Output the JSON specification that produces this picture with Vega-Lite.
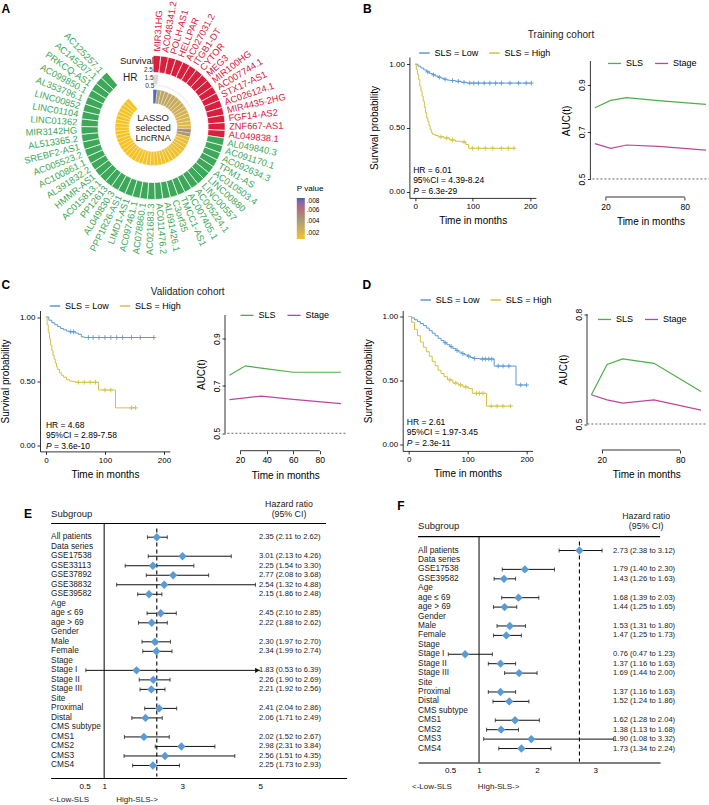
{
"padding":0,
"config":{"view":{"stroke":null},"font":"Liberation Sans",
 "axis":{"domainColor":"#000","tickColor":"#000","labelColor":"#000","titleColor":"#000","grid":false,"titleFontWeight":"normal","domainWidth":0.8,"tickWidth":0.8,"labelFontSize":8,"titleFontSize":10,"labelOverlap":false}},
"datasets":{
"lnc":[
{"idx":0,"gene":"MIR31HG","dir":"risk","p":0.0078,"hr":1.75},
{"idx":1,"gene":"AC048341.2","dir":"risk","p":0.0036,"hr":1.72},
{"idx":2,"gene":"POLH-AS1","dir":"risk","p":0.0034,"hr":1.70},
{"idx":3,"gene":"HELLPAR","dir":"risk","p":0.0033,"hr":1.68},
{"idx":4,"gene":"AC027031.2","dir":"risk","p":0.0032,"hr":1.66},
{"idx":5,"gene":"ITGB1-DT","dir":"risk","p":0.0031,"hr":1.64},
{"idx":6,"gene":"CYTOR","dir":"risk","p":0.0029,"hr":1.62},
{"idx":7,"gene":"MEG3","dir":"risk","p":0.0028,"hr":1.60},
{"idx":8,"gene":"MIR100HG","dir":"risk","p":0.0027,"hr":1.58},
{"idx":9,"gene":"AC007744.1","dir":"risk","p":0.0026,"hr":1.56},
{"idx":10,"gene":"STX17-AS1","dir":"risk","p":0.0024,"hr":1.54},
{"idx":11,"gene":"AC026124.1","dir":"risk","p":0.0022,"hr":1.52},
{"idx":12,"gene":"MIR4435-2HG","dir":"risk","p":0.0021,"hr":1.50},
{"idx":13,"gene":"FGF14-AS2","dir":"risk","p":0.0020,"hr":1.48},
{"idx":14,"gene":"ZNF667-AS1","dir":"risk","p":0.0019,"hr":1.46},
{"idx":15,"gene":"AL049838.1","dir":"risk","p":0.0050,"hr":1.90},
{"idx":16,"gene":"AL049840.3","dir":"protective","p":0.0044,"hr":0.62},
{"idx":17,"gene":"AC091170.1","dir":"protective","p":0.0016,"hr":0.60},
{"idx":18,"gene":"AC092634.3","dir":"protective","p":0.0015,"hr":0.62},
{"idx":19,"gene":"TPM1-AS","dir":"protective","p":0.0014,"hr":0.61},
{"idx":20,"gene":"AC010503.4","dir":"protective","p":0.0014,"hr":0.63},
{"idx":21,"gene":"LINC00880","dir":"protective","p":0.0013,"hr":0.60},
{"idx":22,"gene":"LINC00557","dir":"protective","p":0.0013,"hr":0.62},
{"idx":23,"gene":"AC005224.1","dir":"protective","p":0.0012,"hr":0.61},
{"idx":24,"gene":"AC007405.1","dir":"protective","p":0.0012,"hr":0.63},
{"idx":25,"gene":"TMCC1-AS1","dir":"protective","p":0.0012,"hr":0.60},
{"idx":26,"gene":"C3orf35","dir":"protective","p":0.0011,"hr":0.62},
{"idx":27,"gene":"AL691426.1","dir":"protective","p":0.0011,"hr":0.61},
{"idx":28,"gene":"AC011476.2","dir":"protective","p":0.0011,"hr":0.60},
{"idx":29,"gene":"AC021683.3","dir":"protective","p":0.0011,"hr":0.62},
{"idx":30,"gene":"AC078860.1","dir":"protective","p":0.0011,"hr":0.61},
{"idx":31,"gene":"AC097461.1","dir":"protective","p":0.0010,"hr":0.63},
{"idx":32,"gene":"LIMD1-AS1","dir":"protective","p":0.0010,"hr":0.60},
{"idx":33,"gene":"PPP1R26-AS1","dir":"protective","p":0.0010,"hr":0.62},
{"idx":34,"gene":"AL049830.3","dir":"protective","p":0.0010,"hr":0.61},
{"idx":35,"gene":"PP12613","dir":"protective","p":0.0010,"hr":0.60},
{"idx":36,"gene":"AC015813.1","dir":"protective","p":0.0010,"hr":0.62},
{"idx":37,"gene":"HMMR-AS1","dir":"protective","p":0.0010,"hr":0.61},
{"idx":38,"gene":"AL391832.2","dir":"protective","p":0.0010,"hr":0.63},
{"idx":39,"gene":"AC100861.1","dir":"protective","p":0.0010,"hr":0.60},
{"idx":40,"gene":"AC005523.2","dir":"protective","p":0.0010,"hr":0.62},
{"idx":41,"gene":"SREBF2-AS1","dir":"protective","p":0.0010,"hr":0.61},
{"idx":42,"gene":"AL513365.2","dir":"protective","p":0.0010,"hr":0.60},
{"idx":43,"gene":"MIR3142HG","dir":"protective","p":0.0010,"hr":0.62},
{"idx":44,"gene":"LINC01362","dir":"protective","p":0.0010,"hr":0.61},
{"idx":45,"gene":"LINC01104","dir":"protective","p":0.0010,"hr":0.63},
{"idx":46,"gene":"LINC00852","dir":"protective","p":0.0010,"hr":0.60},
{"idx":47,"gene":"AL353796.1","dir":"protective","p":0.0010,"hr":0.62},
{"idx":48,"gene":"AC099850.1","dir":"protective","p":0.0010,"hr":0.61},
{"idx":49,"gene":"PRKCQ-AS1","dir":"protective","p":0.0010,"hr":0.60},
{"idx":50,"gene":"AC145207.1","dir":"protective","p":0.0010,"hr":0.62},
{"idx":51,"gene":"AC125257.1","dir":"protective","p":0.0010,"hr":0.61}
],
"forestE":[
{"i":0,"label":"All patients","hr":2.35,"lo":2.11,"hi":2.62,"ci":"2.35 (2.11 to 2.62)"},
{"i":1,"label":"Data series"},
{"i":2,"label":"GSE17538","hr":3.01,"lo":2.13,"hi":4.26,"ci":"3.01 (2.13 to 4.26)"},
{"i":3,"label":"GSE33113","hr":2.25,"lo":1.54,"hi":3.30,"ci":"2.25 (1.54 to 3.30)"},
{"i":4,"label":"GSE37892","hr":2.77,"lo":2.08,"hi":3.68,"ci":"2.77 (2.08 to 3.68)"},
{"i":5,"label":"GSE38832","hr":2.54,"lo":1.32,"hi":4.88,"ci":"2.54 (1.32 to 4.88)"},
{"i":6,"label":"GSE39582","hr":2.15,"lo":1.86,"hi":2.48,"ci":"2.15 (1.86 to 2.48)"},
{"i":7,"label":"Age"},
{"i":8,"label":"age ≤ 69","hr":2.45,"lo":2.10,"hi":2.85,"ci":"2.45 (2.10 to 2.85)"},
{"i":9,"label":"age > 69","hr":2.22,"lo":1.88,"hi":2.62,"ci":"2.22 (1.88 to 2.62)"},
{"i":10,"label":"Gender"},
{"i":11,"label":"Male","hr":2.30,"lo":1.97,"hi":2.70,"ci":"2.30 (1.97 to 2.70)"},
{"i":12,"label":"Female","hr":2.34,"lo":1.99,"hi":2.74,"ci":"2.34 (1.99 to 2.74)"},
{"i":13,"label":"Stage"},
{"i":14,"label":"Stage I","hr":1.83,"lo":0.53,"hi":6.39,"ci":"1.83 (0.53 to 6.39)"},
{"i":15,"label":"Stage II","hr":2.26,"lo":1.90,"hi":2.69,"ci":"2.26 (1.90 to 2.69)"},
{"i":16,"label":"Stage III","hr":2.21,"lo":1.92,"hi":2.56,"ci":"2.21 (1.92 to 2.56)"},
{"i":17,"label":"Site"},
{"i":18,"label":"Proximal","hr":2.41,"lo":2.04,"hi":2.86,"ci":"2.41 (2.04 to 2.86)"},
{"i":19,"label":"Distal","hr":2.06,"lo":1.71,"hi":2.49,"ci":"2.06 (1.71 to 2.49)"},
{"i":20,"label":"CMS subtype"},
{"i":21,"label":"CMS1","hr":2.02,"lo":1.52,"hi":2.67,"ci":"2.02 (1.52 to 2.67)"},
{"i":22,"label":"CMS2","hr":2.98,"lo":2.31,"hi":3.84,"ci":"2.98 (2.31 to 3.84)"},
{"i":23,"label":"CMS3","hr":2.56,"lo":1.51,"hi":4.35,"ci":"2.56 (1.51 to 4.35)"},
{"i":24,"label":"CMS4","hr":2.25,"lo":1.73,"hi":2.93,"ci":"2.25 (1.73 to 2.93)"}
],
"forestF":[
{"i":0,"label":"All patients","hr":2.73,"lo":2.38,"hi":3.12,"ci":"2.73 (2.38 to 3.12)"},
{"i":1,"label":"Data series"},
{"i":2,"label":"GSE17538","hr":1.79,"lo":1.40,"hi":2.30,"ci":"1.79 (1.40 to 2.30)"},
{"i":3,"label":"GSE39582","hr":1.43,"lo":1.26,"hi":1.63,"ci":"1.43 (1.26 to 1.63)"},
{"i":4,"label":"Age"},
{"i":5,"label":"age ≤ 69","hr":1.68,"lo":1.39,"hi":2.03,"ci":"1.68 (1.39 to 2.03)"},
{"i":6,"label":"age > 69","hr":1.44,"lo":1.25,"hi":1.65,"ci":"1.44 (1.25 to 1.65)"},
{"i":7,"label":"Gender"},
{"i":8,"label":"Male","hr":1.53,"lo":1.31,"hi":1.80,"ci":"1.53 (1.31 to 1.80)"},
{"i":9,"label":"Female","hr":1.47,"lo":1.25,"hi":1.73,"ci":"1.47 (1.25 to 1.73)"},
{"i":10,"label":"Stage"},
{"i":11,"label":"Stage I","hr":0.76,"lo":0.47,"hi":1.23,"ci":"0.76 (0.47 to 1.23)"},
{"i":12,"label":"Stage II","hr":1.37,"lo":1.16,"hi":1.63,"ci":"1.37 (1.16 to 1.63)"},
{"i":13,"label":"Stage III","hr":1.69,"lo":1.44,"hi":2.00,"ci":"1.69 (1.44 to 2.00)"},
{"i":14,"label":"Site"},
{"i":15,"label":"Proximal","hr":1.37,"lo":1.16,"hi":1.63,"ci":"1.37 (1.16 to 1.63)"},
{"i":16,"label":"Distal","hr":1.52,"lo":1.24,"hi":1.86,"ci":"1.52 (1.24 to 1.86)"},
{"i":17,"label":"CMS subtype"},
{"i":18,"label":"CMS1","hr":1.62,"lo":1.28,"hi":2.04,"ci":"1.62 (1.28 to 2.04)"},
{"i":19,"label":"CMS2","hr":1.38,"lo":1.13,"hi":1.68,"ci":"1.38 (1.13 to 1.68)"},
{"i":20,"label":"CMS3","hr":1.90,"lo":1.08,"hi":3.32,"ci":"1.90 (1.08 to 3.32)"},
{"i":21,"label":"CMS4","hr":1.73,"lo":1.34,"hi":2.24,"ci":"1.73 (1.34 to 2.24)"}
]
},
"spacing":22.5,
"resolve":{"scale":{"color":"independent"},"legend":{"color":"independent"}},
"vconcat":[
{"spacing":38.4,"resolve":{"scale":{"color":"independent"},"legend":{"color":"independent"}},"hconcat":[
{"width":226.2,"height":141,"data":{"name":"lnc"},
 "resolve":{"scale":{"color":"independent","angle":"independent"}},
 "layer":[
  {"mark":{"type":"arc","radius":72,"radius2":55,"stroke":"white","strokeWidth":0.7},
   "encoding":{"theta":{"aggregate":"count","type":"quantitative","stack":true,"scale":{"domain":[0,52],"range":[0,5.585]}},
    "order":{"field":"idx","type":"quantitative"},"detail":{"field":"gene","type":"nominal"},
    "color":{"field":"dir","type":"nominal","scale":{"domain":["risk","protective"],"range":["#D6203E","#3DA75A"]},"legend":null}}},
  {"mark":{"type":"arc","radius2":42,"stroke":"white","strokeWidth":0.6,"fill":"#D9D9D9"},
   "encoding":{"theta":{"aggregate":"count","type":"quantitative","stack":true,"scale":{"domain":[0,52],"range":[0,5.585]}},
    "order":{"field":"idx","type":"quantitative"},"detail":{"field":"gene","type":"nominal"},
    "radius":{"field":"hr","type":"quantitative","scale":{"type":"linear","zero":false,"domain":[0.5,2.5],"range":[42,58]}}}},
  {"mark":{"type":"arc","radius":38,"radius2":24,"stroke":"white","strokeWidth":0.3},
   "encoding":{"theta":{"aggregate":"count","type":"quantitative","stack":true,"scale":{"domain":[0,52],"range":[0,5.585]}},
    "order":{"field":"idx","type":"quantitative"},"detail":{"field":"gene","type":"nominal"},
    "color":{"field":"p","type":"quantitative","scale":{"domain":[0.001,0.0045,0.008],"range":["#F5C324","#A3977A","#2E6DB4"]},
     "legend":{"orient":"none","legendX":256.8,"legendY":128,"title":"P value","titleFontSize":8,"titleFontWeight":"normal","labelFontSize":6.5,"gradientLength":41,"gradientThickness":8,"values":[0.002,0.004,0.006,0.008],"labelExpr":"replace(format(datum.value,'.3f'),'0.','.')","direction":"vertical"}}}},
  {"transform":[{"filter":"datum.idx <= 28"}],
   "mark":{"type":"text","radius":76,"thetaOffset":0.0537,"align":"left","baseline":"middle","fontSize":9.3},
   "encoding":{"theta":{"field":"idx","type":"quantitative","stack":false,"scale":{"domain":[0,52],"range":[0,5.585]}},
    "angle":{"field":"idx","type":"quantitative","scale":{"domain":[0,52],"range":[-86.92,233.08]}},
    "text":{"field":"gene"},
    "color":{"field":"dir","type":"nominal","scale":{"domain":["risk","protective"],"range":["#D6203E","#3DA75A"]},"legend":null}}},
  {"transform":[{"filter":"datum.idx >= 29"}],
   "mark":{"type":"text","radius":76,"thetaOffset":0.0537,"align":"right","baseline":"middle","fontSize":9.3},
   "encoding":{"theta":{"field":"idx","type":"quantitative","stack":false,"scale":{"domain":[0,52],"range":[0,5.585]}},
    "angle":{"field":"idx","type":"quantitative","scale":{"domain":[0,52],"range":[-266.92,53.08]}},
    "text":{"field":"gene"},
    "color":{"field":"dir","type":"nominal","scale":{"domain":["risk","protective"],"range":["#D6203E","#3DA75A"]},"legend":null}}},
  {"data":{"values":[{"hr":0.5},{"hr":1.5},{"hr":2.5}]},
   "mark":{"type":"text","fontSize":6.5,"align":"center","baseline":"middle","color":"#333"},
   "encoding":{"theta":{"datum":-0.75,"type":"quantitative"},"radius":{"field":"hr","type":"quantitative"},"text":{"field":"hr","type":"quantitative","format":".1f"}}},
  {"data":{"values":[{"t":"Survival"}]},
   "mark":{"type":"text","radius":66.5,"align":"right","baseline":"middle","fontSize":9.5,"color":"#222"},
   "encoding":{"theta":{"datum":0.1,"type":"quantitative"},"text":{"field":"t"}}},
  {"data":{"values":[{"t":"HR"}]},
   "mark":{"type":"text","radius":52.2,"align":"right","baseline":"middle","fontSize":10,"color":"#222"},
   "encoding":{"theta":{"datum":-2.84,"type":"quantitative"},"text":{"field":"t"}}},
  {"data":{"values":[{"t":"LASSO|selected|LncRNA"}]},
   "mark":{"type":"text","lineBreak":"|","lineHeight":10,"fontSize":9.5,"align":"center","baseline":"middle","dy":-10,"color":"#222"},
   "encoding":{"text":{"field":"t"}}},
  {"data":{"values":[{"t":"A"}]},
   "mark":{"type":"text","radius":188.9,"fontSize":12,"fontWeight":"bold","align":"center","baseline":"middle"},
   "encoding":{"theta":{"datum":-8.33,"type":"quantitative"},"text":{"field":"t"}}}
 ]},
{"spacing":-23,"resolve":{"scale":{"color":"independent"},"legend":{"color":"independent"}},"hconcat":[
{"width":126.5,"height":140.9,
 "data":{"values":[
{"g":"Low","t":0,"s":1},{"g":"Low","t":5,"s":0.985},{"g":"Low","t":10,"s":0.97},{"g":"Low","t":15,"s":0.955},{"g":"Low","t":20,"s":0.94},{"g":"Low","t":22,"s":0.94,"c":1},{"g":"Low","t":25,"s":0.928},{"g":"Low","t":30,"s":0.917},{"g":"Low","t":32,"s":0.917,"c":1},{"g":"Low","t":35,"s":0.907},{"g":"Low","t":40,"s":0.898},{"g":"Low","t":42,"s":0.898,"c":1},{"g":"Low","t":45,"s":0.89},{"g":"Low","t":50,"s":0.882},{"g":"Low","t":52,"s":0.882,"c":1},{"g":"Low","t":55,"s":0.876},{"g":"Low","t":60,"s":0.872},{"g":"Low","t":65,"s":0.872,"c":1},{"g":"Low","t":70,"s":0.866},{"g":"Low","t":75,"s":0.866,"c":1},{"g":"Low","t":80,"s":0.858},{"g":"Low","t":85,"s":0.858,"c":1},{"g":"Low","t":90,"s":0.852},{"g":"Low","t":95,"s":0.852,"c":1},{"g":"Low","t":102,"s":0.852,"c":1},{"g":"Low","t":110,"s":0.852,"c":1},{"g":"Low","t":120,"s":0.852,"c":1},{"g":"Low","t":130,"s":0.852,"c":1},{"g":"Low","t":140,"s":0.852,"c":1},{"g":"Low","t":150,"s":0.852,"c":1},{"g":"Low","t":165,"s":0.852,"c":1},{"g":"Low","t":180,"s":0.852,"c":1},{"g":"Low","t":193,"s":0.852,"c":1},{"g":"Low","t":202,"s":0.852,"c":1},
{"g":"High","t":0,"s":1},{"g":"High","t":2,"s":0.96},{"g":"High","t":4,"s":0.92},{"g":"High","t":6,"s":0.88},{"g":"High","t":8,"s":0.83},{"g":"High","t":10,"s":0.79},{"g":"High","t":12,"s":0.75},{"g":"High","t":14,"s":0.71},{"g":"High","t":16,"s":0.66},{"g":"High","t":18,"s":0.62},{"g":"High","t":20,"s":0.58},{"g":"High","t":22,"s":0.55},{"g":"High","t":24,"s":0.52},{"g":"High","t":26,"s":0.49},{"g":"High","t":28,"s":0.465},{"g":"High","t":30,"s":0.45},{"g":"High","t":35,"s":0.44},{"g":"High","t":40,"s":0.43},{"g":"High","t":45,"s":0.43,"c":1},{"g":"High","t":50,"s":0.42},{"g":"High","t":55,"s":0.42,"c":1},{"g":"High","t":60,"s":0.405},{"g":"High","t":65,"s":0.405,"c":1},{"g":"High","t":70,"s":0.395},{"g":"High","t":80,"s":0.39},{"g":"High","t":85,"s":0.39,"c":1},{"g":"High","t":88,"s":0.37},{"g":"High","t":93,"s":0.34},{"g":"High","t":100,"s":0.34,"c":1},{"g":"High","t":110,"s":0.34,"c":1},{"g":"High","t":122,"s":0.34,"c":1},{"g":"High","t":135,"s":0.34,"c":1},{"g":"High","t":150,"s":0.34,"c":1},{"g":"High","t":162,"s":0.34,"c":1},{"g":"High","t":172,"s":0.34,"c":1}
 ]},
 "layer":[
  {"mark":{"type":"line","interpolate":"step-after","strokeWidth":1},
   "encoding":{"x":{"field":"t","type":"quantitative","scale":{"domain":[-10,210],"nice":false,"zero":false},"axis":{"values":[0,50,100,150,200],"title":"Time in months","tickSize":3,"labelPadding":2,"titlePadding":5}},
    "y":{"field":"s","type":"quantitative","scale":{"domain":[-0.05,1.057],"nice":false,"zero":false},"axis":{"values":[0,0.25,0.5,0.75,1],"format":".2f","title":"Survival probability","tickSize":3,"labelPadding":2,"titlePadding":9}},
    "color":{"field":"g","type":"nominal","scale":{"domain":["Low","High"],"range":["#5B9AD6","#D4C242"]},"legend":{"orient":"none","legendX":9,"legendY":-10,"direction":"horizontal","title":null,"symbolType":"stroke","symbolSize":110,"symbolStrokeWidth":1.5,"labelFontSize":9,"labelExpr":"'SLS = ' + datum.label","columnPadding":7}}}},
  {"transform":[{"filter":"datum.c == 1"}],"mark":{"type":"point","shape":"M-1,0L1,0M0,-1L0,1","filled":false,"size":22,"strokeWidth":0.9,"opacity":1},
   "encoding":{"x":{"field":"t","type":"quantitative"},"y":{"field":"s","type":"quantitative"},"color":{"field":"g","type":"nominal"}}},
  {"data":{"values":[{"t":"HR = 6.01|95%CI = 4.39-8.24"}]},"mark":{"type":"text","lineBreak":"|","lineHeight":10.5,"align":"left","baseline":"middle","fontSize":8.5},
   "encoding":{"x":{"datum":-3.5,"type":"quantitative"},"y":{"datum":0.17,"type":"quantitative"},"text":{"field":"t"}}},
  {"data":{"values":[{"t":"P"}]},"mark":{"type":"text","align":"left","baseline":"middle","fontSize":8.5,"fontStyle":"italic"},
   "encoding":{"x":{"datum":-3.5,"type":"quantitative"},"y":{"datum":0.004,"type":"quantitative"},"text":{"field":"t"}}},
  {"data":{"values":[{"t":"= 6.3e-29"}]},"mark":{"type":"text","align":"left","baseline":"middle","fontSize":8.5,"dx":8},
   "encoding":{"x":{"datum":-3.5,"type":"quantitative"},"y":{"datum":0.004,"type":"quantitative"},"text":{"field":"t"}}},
  {"data":{"values":[{"t":"B"}]},"mark":{"type":"text","align":"center","baseline":"middle","fontSize":12,"fontWeight":"bold"},
   "encoding":{"x":{"datum":-83,"type":"quantitative"},"y":{"datum":1.432,"type":"quantitative"},"text":{"field":"t"}}}
 ]},
{"width":120,"height":126.7,
 "data":{"values":[{"m":12,"a":0.802,"v":"SLS"},{"m":24,"a":0.833,"v":"SLS"},{"m":36,"a":0.845,"v":"SLS"},{"m":60,"a":0.832,"v":"SLS"},{"m":96,"a":0.816,"v":"SLS"},{"m":12,"a":0.65,"v":"Stage"},{"m":24,"a":0.63,"v":"Stage"},{"m":36,"a":0.644,"v":"Stage"},{"m":60,"a":0.638,"v":"Stage"},{"m":96,"a":0.622,"v":"Stage"}]},
 "layer":[
  {"data":{"values":[{}]},"mark":{"type":"rule","strokeDash":[2,2],"color":"#555","strokeWidth":0.9},"encoding":{"y":{"datum":0.5,"type":"quantitative"}}},
  {"mark":{"type":"line","strokeWidth":1.2},
   "encoding":{"x":{"field":"m","type":"quantitative","scale":{"domain":[8.64,99.36],"nice":false,"zero":false},"axis":{"values":[20,40,60,80],"labelOverlap":false,"domain":false,"offset":13.3,"tickSize":3,"labelPadding":2,"title":"Time in months","titlePadding":6,"labelFontSize":8.5}},
    "y":{"field":"a","type":"quantitative","scale":{"domain":[0.48,1.017],"nice":false,"zero":false},"axis":{"values":[0.5,0.6,0.7,0.8,0.9,1],"labelOverlap":false,"format":".1f","domain":false,"labelAngle":-90,"labelAlign":"center","labelBaseline":"bottom","tickSize":3,"labelPadding":1,"title":"AUC(t)","titlePadding":6,"labelFontSize":8.5}},
    "color":{"field":"v","type":"nominal","scale":{"domain":["SLS","Stage"],"range":["#4DAF4A","#BA479D"]},"legend":{"orient":"none","legendX":16.7,"legendY":-1.3,"direction":"horizontal","title":null,"symbolType":"stroke","symbolSize":170,"symbolStrokeWidth":1.3,"labelFontSize":9,"columnPadding":8}}}},
  {"data":{"values":[{}]},"mark":{"type":"rule","color":"#000","strokeWidth":0.8},"encoding":{"x":{"datum":20,"type":"quantitative"},"x2":{"datum":80},"y":{"datum":0.4236,"type":"quantitative"}}},
  {"data":{"values":[{}]},"mark":{"type":"rule","color":"#000","strokeWidth":0.8},"encoding":{"x":{"datum":8.64,"type":"quantitative"},"y":{"datum":0.5,"type":"quantitative"},"y2":{"datum":1.0}}},
  {"data":{"values":[{"t":"Training cohort"}]},"mark":{"type":"text","align":"center","baseline":"middle","fontSize":10,"color":"#222"},
   "encoding":{"x":{"datum":-13.6,"type":"quantitative"},"y":{"datum":1.11,"type":"quantitative"},"text":{"field":"t"}}}
 ]}
]}
]},
{"spacing":16,"resolve":{"scale":{"color":"independent"},"legend":{"color":"independent"}},"vconcat":[
{"spacing":15.7,"resolve":{"scale":{"color":"independent"},"legend":{"color":"independent"}},"hconcat":[
{"spacing":-36.4,"resolve":{"scale":{"color":"independent"},"legend":{"color":"independent"}},"hconcat":[
{"width":129.8,"height":140.9,
 "data":{"values":[
{"g":"Low","t":0,"s":1},{"g":"Low","t":5,"s":0.975},{"g":"Low","t":10,"s":0.955},{"g":"Low","t":15,"s":0.94},{"g":"Low","t":20,"s":0.925},{"g":"Low","t":25,"s":0.91},{"g":"Low","t":30,"s":0.9},{"g":"Low","t":35,"s":0.89},{"g":"Low","t":40,"s":0.885},{"g":"Low","t":42,"s":0.885,"c":1},{"g":"Low","t":47,"s":0.885,"c":1},{"g":"Low","t":50,"s":0.875},{"g":"Low","t":55,"s":0.865},{"g":"Low","t":60,"s":0.845},{"g":"Low","t":65,"s":0.84},{"g":"Low","t":72,"s":0.84,"c":1},{"g":"Low","t":80,"s":0.84,"c":1},{"g":"Low","t":90,"s":0.84,"c":1},{"g":"Low","t":100,"s":0.84,"c":1},{"g":"Low","t":110,"s":0.84,"c":1},{"g":"Low","t":120,"s":0.84,"c":1},{"g":"Low","t":130,"s":0.84,"c":1},{"g":"Low","t":145,"s":0.84,"c":1},{"g":"Low","t":160,"s":0.84,"c":1},{"g":"Low","t":183,"s":0.84,"c":1},
{"g":"High","t":0,"s":1},{"g":"High","t":2,"s":0.94},{"g":"High","t":4,"s":0.88},{"g":"High","t":6,"s":0.83},{"g":"High","t":8,"s":0.78},{"g":"High","t":10,"s":0.74},{"g":"High","t":12,"s":0.70},{"g":"High","t":14,"s":0.67},{"g":"High","t":16,"s":0.64},{"g":"High","t":18,"s":0.61},{"g":"High","t":20,"s":0.59},{"g":"High","t":23,"s":0.565},{"g":"High","t":26,"s":0.545},{"g":"High","t":30,"s":0.53},{"g":"High","t":35,"s":0.51},{"g":"High","t":40,"s":0.5},{"g":"High","t":45,"s":0.495},{"g":"High","t":50,"s":0.49},{"g":"High","t":55,"s":0.49,"c":1},{"g":"High","t":65,"s":0.49,"c":1},{"g":"High","t":75,"s":0.49,"c":1},{"g":"High","t":84,"s":0.49,"c":1},{"g":"High","t":89,"s":0.43},{"g":"High","t":100,"s":0.43,"c":1},{"g":"High","t":110,"s":0.43,"c":1},{"g":"High","t":118,"s":0.29},{"g":"High","t":145,"s":0.29,"c":1},{"g":"High","t":152,"s":0.29,"c":1}
 ]},
 "layer":[
  {"mark":{"type":"line","interpolate":"step-after","strokeWidth":1},
   "encoding":{"x":{"field":"t","type":"quantitative","scale":{"domain":[-10,210],"nice":false,"zero":false},"axis":{"values":[0,50,100,150,200],"title":"Time in months","tickSize":3,"labelPadding":2,"titlePadding":5}},
    "y":{"field":"s","type":"quantitative","scale":{"domain":[-0.05,1.051],"nice":false,"zero":false},"axis":{"values":[0,0.25,0.5,0.75,1],"format":".2f","title":"Survival probability","tickSize":3,"labelPadding":2,"titlePadding":9}},
    "color":{"field":"g","type":"nominal","scale":{"domain":["Low","High"],"range":["#5B9AD6","#D4C242"]},"legend":{"orient":"none","legendX":9,"legendY":-10.5,"direction":"horizontal","title":null,"symbolType":"stroke","symbolSize":110,"symbolStrokeWidth":1.5,"labelFontSize":9,"labelExpr":"'SLS = ' + datum.label","columnPadding":7}}}},
  {"transform":[{"filter":"datum.c == 1"}],"mark":{"type":"point","shape":"M-1,0L1,0M0,-1L0,1","filled":false,"size":22,"strokeWidth":0.9,"opacity":1},
   "encoding":{"x":{"field":"t","type":"quantitative"},"y":{"field":"s","type":"quantitative"},"color":{"field":"g","type":"nominal"}}},
  {"data":{"values":[{"t":"HR = 4.68|95%CI = 2.89-7.58"}]},"mark":{"type":"text","lineBreak":"|","lineHeight":10.5,"align":"left","baseline":"middle","fontSize":8.5},
   "encoding":{"x":{"datum":0,"type":"quantitative"},"y":{"datum":0.157,"type":"quantitative"},"text":{"field":"t"}}},
  {"data":{"values":[{"t":"P"}]},"mark":{"type":"text","align":"left","baseline":"middle","fontSize":8.5,"fontStyle":"italic"},
   "encoding":{"x":{"datum":0,"type":"quantitative"},"y":{"datum":-0.005,"type":"quantitative"},"text":{"field":"t"}}},
  {"data":{"values":[{"t":"= 3.6e-10"}]},"mark":{"type":"text","align":"left","baseline":"middle","fontSize":8.5,"dx":8},
   "encoding":{"x":{"datum":0,"type":"quantitative"},"y":{"datum":-0.005,"type":"quantitative"},"text":{"field":"t"}}},
  {"data":{"values":[{"t":"C"}]},"mark":{"type":"text","align":"center","baseline":"middle","fontSize":12,"fontWeight":"bold"},
   "encoding":{"x":{"datum":-67.8,"type":"quantitative"},"y":{"datum":1.247,"type":"quantitative"},"text":{"field":"t"}}},
  {"data":{"values":[{"t":"Validation cohort"}]},"mark":{"type":"text","align":"center","baseline":"middle","fontSize":10,"color":"#222"},
   "encoding":{"x":{"datum":240.3,"type":"quantitative"},"y":{"datum":1.198,"type":"quantitative"},"text":{"field":"t"}}}
 ]},
{"width":120.4,"height":127.5,
 "data":{"values":[{"m":12,"a":0.745,"v":"SLS"},{"m":24,"a":0.785,"v":"SLS"},{"m":36,"a":0.775,"v":"SLS"},{"m":60,"a":0.758,"v":"SLS"},{"m":96,"a":0.758,"v":"SLS"},{"m":12,"a":0.642,"v":"Stage"},{"m":24,"a":0.65,"v":"Stage"},{"m":36,"a":0.657,"v":"Stage"},{"m":60,"a":0.643,"v":"Stage"},{"m":96,"a":0.625,"v":"Stage"}]},
 "layer":[
  {"data":{"values":[{}]},"mark":{"type":"rule","strokeDash":[2,2],"color":"#555","strokeWidth":0.9},"encoding":{"y":{"datum":0.5,"type":"quantitative"}}},
  {"mark":{"type":"line","strokeWidth":1.2},
   "encoding":{"x":{"field":"m","type":"quantitative","scale":{"domain":[8.64,99.36],"nice":false,"zero":false},"axis":{"values":[20,40,60,80],"labelOverlap":false,"domain":false,"offset":12.7,"tickSize":3,"labelPadding":2,"title":"Time in months","titlePadding":6,"labelFontSize":8.5}},
    "y":{"field":"a","type":"quantitative","scale":{"domain":[0.48,1.019],"nice":false,"zero":false},"axis":{"values":[0.5,0.6,0.7,0.8,0.9,1],"labelOverlap":false,"format":".1f","domain":false,"labelAngle":-90,"labelAlign":"center","labelBaseline":"bottom","tickSize":3,"labelPadding":1,"title":"AUC(t)","titlePadding":6,"labelFontSize":8.5}},
    "color":{"field":"v","type":"nominal","scale":{"domain":["SLS","Stage"],"range":["#4DAF4A","#BA479D"]},"legend":{"orient":"none","legendX":14.5,"legendY":-2.9,"direction":"horizontal","title":null,"symbolType":"stroke","symbolSize":170,"symbolStrokeWidth":1.3,"labelFontSize":9,"columnPadding":8}}}},
  {"data":{"values":[{}]},"mark":{"type":"rule","color":"#000","strokeWidth":0.8},"encoding":{"x":{"datum":20,"type":"quantitative"},"x2":{"datum":80},"y":{"datum":0.4263,"type":"quantitative"}}},
  {"data":{"values":[{}]},"mark":{"type":"rule","color":"#000","strokeWidth":0.8},"encoding":{"x":{"datum":8.64,"type":"quantitative"},"y":{"datum":0.5,"type":"quantitative"},"y2":{"datum":1.0}}}
 ]}
]},
{"spacing":6.3,"resolve":{"scale":{"color":"independent"},"legend":{"color":"independent"}},"hconcat":[
{"width":129.8,"height":140.4,
 "data":{"values":[
{"g":"Low","t":0,"s":1},{"g":"Low","t":5,"s":0.99},{"g":"Low","t":10,"s":0.975},{"g":"Low","t":15,"s":0.96},{"g":"Low","t":20,"s":0.945},{"g":"Low","t":25,"s":0.93},{"g":"Low","t":30,"s":0.91},{"g":"Low","t":35,"s":0.89},{"g":"Low","t":40,"s":0.87},{"g":"Low","t":45,"s":0.85},{"g":"Low","t":50,"s":0.83},{"g":"Low","t":55,"s":0.812},{"g":"Low","t":60,"s":0.795},{"g":"Low","t":62,"s":0.795,"c":1},{"g":"Low","t":65,"s":0.78},{"g":"Low","t":70,"s":0.765},{"g":"Low","t":72,"s":0.765,"c":1},{"g":"Low","t":75,"s":0.75},{"g":"Low","t":80,"s":0.735},{"g":"Low","t":82,"s":0.735,"c":1},{"g":"Low","t":85,"s":0.722},{"g":"Low","t":90,"s":0.71},{"g":"Low","t":92,"s":0.71,"c":1},{"g":"Low","t":95,"s":0.7},{"g":"Low","t":100,"s":0.69},{"g":"Low","t":102,"s":0.69,"c":1},{"g":"Low","t":105,"s":0.68},{"g":"Low","t":110,"s":0.672},{"g":"Low","t":112,"s":0.672,"c":1},{"g":"Low","t":120,"s":0.668},{"g":"Low","t":125,"s":0.668,"c":1},{"g":"Low","t":130,"s":0.668,"c":1},{"g":"Low","t":136,"s":0.668,"c":1},{"g":"Low","t":141,"s":0.668,"c":1},{"g":"Low","t":145,"s":0.613},{"g":"Low","t":152,"s":0.613,"c":1},{"g":"Low","t":160,"s":0.613,"c":1},{"g":"Low","t":170,"s":0.613,"c":1},{"g":"Low","t":182,"s":0.465},{"g":"Low","t":190,"s":0.465,"c":1},{"g":"Low","t":200,"s":0.465,"c":1},
{"g":"High","t":0,"s":1},{"g":"High","t":5,"s":0.955},{"g":"High","t":10,"s":0.9},{"g":"High","t":15,"s":0.85},{"g":"High","t":20,"s":0.8},{"g":"High","t":25,"s":0.76},{"g":"High","t":30,"s":0.725},{"g":"High","t":35,"s":0.69},{"g":"High","t":40,"s":0.65},{"g":"High","t":45,"s":0.615},{"g":"High","t":50,"s":0.58},{"g":"High","t":55,"s":0.555},{"g":"High","t":60,"s":0.53},{"g":"High","t":66,"s":0.505},{"g":"High","t":70,"s":0.505,"c":1},{"g":"High","t":75,"s":0.48},{"g":"High","t":80,"s":0.48,"c":1},{"g":"High","t":84,"s":0.465},{"g":"High","t":88,"s":0.465,"c":1},{"g":"High","t":92,"s":0.45},{"g":"High","t":97,"s":0.45,"c":1},{"g":"High","t":101,"s":0.438},{"g":"High","t":108,"s":0.40},{"g":"High","t":115,"s":0.40,"c":1},{"g":"High","t":120,"s":0.40,"c":1},{"g":"High","t":126,"s":0.40,"c":1},{"g":"High","t":132,"s":0.30},{"g":"High","t":140,"s":0.30,"c":1},{"g":"High","t":150,"s":0.30,"c":1},{"g":"High","t":160,"s":0.30,"c":1},{"g":"High","t":173,"s":0.30,"c":1}
 ]},
 "layer":[
  {"mark":{"type":"line","interpolate":"step-after","strokeWidth":1},
   "encoding":{"x":{"field":"t","type":"quantitative","scale":{"domain":[-10,210],"nice":false,"zero":false},"axis":{"values":[0,50,100,150,200],"title":"Time in months","tickSize":3,"labelPadding":2,"titlePadding":5}},
    "y":{"field":"s","type":"quantitative","scale":{"domain":[-0.05,1.047],"nice":false,"zero":false},"axis":{"values":[0,0.25,0.5,0.75,1],"format":".2f","title":"Survival probability","tickSize":3,"labelPadding":2,"titlePadding":9}},
    "color":{"field":"g","type":"nominal","scale":{"domain":["Low","High"],"range":["#5B9AD6","#D4C242"]},"legend":{"orient":"none","legendX":17,"legendY":-16.5,"direction":"horizontal","title":null,"symbolType":"stroke","symbolSize":110,"symbolStrokeWidth":1.5,"labelFontSize":9,"labelExpr":"'SLS = ' + datum.label","columnPadding":7}}}},
  {"transform":[{"filter":"datum.c == 1"}],"mark":{"type":"point","shape":"M-1,0L1,0M0,-1L0,1","filled":false,"size":22,"strokeWidth":0.9,"opacity":1},
   "encoding":{"x":{"field":"t","type":"quantitative"},"y":{"field":"s","type":"quantitative"},"color":{"field":"g","type":"nominal"}}},
  {"data":{"values":[{"t":"HR = 2.61|95%CI = 1.97-3.45"}]},"mark":{"type":"text","lineBreak":"|","lineHeight":10.5,"align":"left","baseline":"middle","fontSize":8.5},
   "encoding":{"x":{"datum":-3,"type":"quantitative"},"y":{"datum":0.178,"type":"quantitative"},"text":{"field":"t"}}},
  {"data":{"values":[{"t":"P"}]},"mark":{"type":"text","align":"left","baseline":"middle","fontSize":8.5,"fontStyle":"italic"},
   "encoding":{"x":{"datum":-3,"type":"quantitative"},"y":{"datum":0.014,"type":"quantitative"},"text":{"field":"t"}}},
  {"data":{"values":[{"t":"= 2.3e-11"}]},"mark":{"type":"text","align":"left","baseline":"middle","fontSize":8.5,"dx":8},
   "encoding":{"x":{"datum":-3,"type":"quantitative"},"y":{"datum":0.014,"type":"quantitative"},"text":{"field":"t"}}},
  {"data":{"values":[{"t":"D"}]},"mark":{"type":"text","align":"center","baseline":"middle","fontSize":12,"fontWeight":"bold"},
   "encoding":{"x":{"datum":-70.9,"type":"quantitative"},"y":{"datum":1.243,"type":"quantitative"},"text":{"field":"t"}}}
 ]},
{"width":118.4,"height":117.9,
 "data":{"values":[{"m":12,"a":0.58,"v":"SLS"},{"m":24,"a":0.663,"v":"SLS"},{"m":36,"a":0.678,"v":"SLS"},{"m":60,"a":0.666,"v":"SLS"},{"m":96,"a":0.589,"v":"SLS"},{"m":12,"a":0.58,"v":"Stage"},{"m":24,"a":0.566,"v":"Stage"},{"m":36,"a":0.557,"v":"Stage"},{"m":60,"a":0.566,"v":"Stage"},{"m":96,"a":0.538,"v":"Stage"}]},
 "layer":[
  {"data":{"values":[{}]},"mark":{"type":"rule","strokeDash":[2,2],"color":"#555","strokeWidth":0.9},"encoding":{"y":{"datum":0.5,"type":"quantitative"}}},
  {"mark":{"type":"line","strokeWidth":1.2},
   "encoding":{"x":{"field":"m","type":"quantitative","scale":{"domain":[8.64,99.36],"nice":false,"zero":false},"axis":{"values":[20,40,60,80],"labelOverlap":false,"domain":false,"offset":21.6,"tickSize":3,"labelPadding":2,"title":"Time in months","titlePadding":6,"labelFontSize":8.5}},
    "y":{"field":"a","type":"quantitative","scale":{"domain":[0.488,0.8104],"nice":false,"zero":false},"axis":{"values":[0.5,0.6,0.7,0.8],"labelOverlap":false,"format":".1f","domain":false,"labelAngle":-90,"labelAlign":"center","labelBaseline":"bottom","tickSize":3,"labelPadding":1,"title":"AUC(t)","titlePadding":6,"labelFontSize":8.5}},
    "color":{"field":"v","type":"nominal","scale":{"domain":["SLS","Stage"],"range":["#4DAF4A","#BA479D"]},"legend":{"orient":"none","legendX":10,"legendY":1.2,"direction":"horizontal","title":null,"symbolType":"stroke","symbolSize":170,"symbolStrokeWidth":1.3,"labelFontSize":9,"columnPadding":8}}}},
  {"data":{"values":[{}]},"mark":{"type":"rule","color":"#000","strokeWidth":0.8},"encoding":{"x":{"datum":20,"type":"quantitative"},"x2":{"datum":80},"y":{"datum":0.4289,"type":"quantitative"}}},
  {"data":{"values":[{}]},"mark":{"type":"rule","color":"#000","strokeWidth":0.8},"encoding":{"x":{"datum":8.64,"type":"quantitative"},"y":{"datum":0.5,"type":"quantitative"},"y2":{"datum":0.8}}}
 ]}
]}
]},
{"spacing":49.1,"hconcat":[
{"width":307.1,"height":282,"data":{"name":"forestE"},
 "layer":[
  {"data":{"values":[{}]},"mark":{"type":"rule","color":"#000","strokeWidth":1.2},"encoding":{"x":{"datum":-0.36,"type":"quantitative"},"x2":{"datum":6.69},"y":{"datum":-1.44,"type":"quantitative","axis":null}}},
  {"data":{"values":[{}]},"mark":{"type":"rule","color":"#000","strokeWidth":1.2},"encoding":{"x":{"datum":-0.36,"type":"quantitative"},"x2":{"datum":7.23},"y":{"datum":25.37,"type":"quantitative","axis":null}}},
  {"data":{"values":[{}]},"mark":{"type":"rule","color":"#000","strokeWidth":1},"encoding":{"x":{"datum":1,"type":"quantitative"},"y":{"datum":-1.44,"type":"quantitative","axis":null},"y2":{"datum":25.37}}},
  {"transform":[{"filter":"datum.i == 0"}],"mark":{"type":"rule","color":"#000","strokeWidth":1.1,"strokeDash":[4,3]},"encoding":{"x":{"field":"hr","type":"quantitative","title":null},"y":{"datum":-0.92,"type":"quantitative","axis":null},"y2":{"datum":25.16}}},
  {"transform":[{"filter":"isValid(datum.hr) && datum.hi <= 5"}],"mark":{"type":"rule","color":"#111","strokeWidth":1},"encoding":{"x":{"field":"lo","type":"quantitative","title":null},"x2":{"field":"hi"},"y":{"field":"i","type":"quantitative","axis":null}}},
  {"transform":[{"filter":"datum.hi > 5"}],"mark":{"type":"rule","color":"#111","strokeWidth":1},"encoding":{"x":{"field":"lo","type":"quantitative","title":null},"x2":{"datum":5},"y":{"field":"i","type":"quantitative","axis":null}}},
  {"transform":[{"filter":"datum.hi > 5"}],"mark":{"type":"point","shape":"triangle-right","filled":true,"color":"#111","size":28,"opacity":1},"encoding":{"x":{"datum":4.93,"type":"quantitative"},"y":{"field":"i","type":"quantitative","axis":null}}},
  {"transform":[{"filter":"isValid(datum.hr)"}],"mark":{"type":"tick","orient":"vertical","size":4,"thickness":1,"color":"#111"},"encoding":{"x":{"field":"lo","type":"quantitative","title":null},"y":{"field":"i","type":"quantitative","axis":null}}},
  {"transform":[{"filter":"isValid(datum.hr) && datum.hi <= 5"}],"mark":{"type":"tick","orient":"vertical","size":4,"thickness":1,"color":"#111"},"encoding":{"x":{"field":"hi","type":"quantitative","title":null},"y":{"field":"i","type":"quantitative","axis":null}}},
  {"transform":[{"filter":"isValid(datum.hr)"}],"mark":{"type":"point","shape":"diamond","filled":true,"color":"#5B9BD5","size":70,"opacity":1},
   "encoding":{"x":{"field":"hr","type":"quantitative","scale":{"domain":[-0.645,7.23],"nice":false,"zero":false},"axis":{"values":[0.5,1,3,5],"format":"~g","title":null,"domain":false,"tickSize":0,"labelPadding":4,"labelFontSize":8}},
    "y":{"field":"i","type":"quantitative","scale":{"domain":[-4.28,25.37],"reverse":true,"nice":false,"zero":false},"axis":null}}},
  {"mark":{"type":"text","align":"left","baseline":"middle","fontSize":8.3,"color":"#222"},"encoding":{"x":{"datum":-0.36,"type":"quantitative"},"y":{"field":"i","type":"quantitative","axis":null},"text":{"field":"label"}}},
  {"transform":[{"filter":"isValid(datum.hr)"}],"mark":{"type":"text","align":"left","baseline":"middle","fontSize":7.6,"color":"#222"},"encoding":{"x":{"datum":4.97,"type":"quantitative"},"y":{"field":"i","type":"quantitative","axis":null},"text":{"field":"ci"}}},
  {"data":{"values":[{"t":"Subgroup"}]},"mark":{"type":"text","align":"left","baseline":"middle","fontSize":9.5,"color":"#222"},"encoding":{"x":{"datum":-0.36,"type":"quantitative"},"y":{"datum":-2.49,"type":"quantitative","axis":null},"text":{"field":"t"}}},
  {"data":{"values":[{"t":"Hazard ratio"}]},"mark":{"type":"text","align":"center","baseline":"middle","fontSize":8.8,"color":"#222"},"encoding":{"x":{"datum":5.74,"type":"quantitative"},"y":{"datum":-3.5,"type":"quantitative","axis":null},"text":{"field":"t"}}},
  {"data":{"values":[{"t":"(95% CI)"}]},"mark":{"type":"text","align":"center","baseline":"middle","fontSize":8.8,"color":"#222"},"encoding":{"x":{"datum":5.74,"type":"quantitative"},"y":{"datum":-2.45,"type":"quantitative","axis":null},"text":{"field":"t"}}},
  {"data":{"values":[{"t":"E"}]},"mark":{"type":"text","align":"center","baseline":"middle","fontSize":12,"fontWeight":"bold"},"encoding":{"x":{"datum":-0.95,"type":"quantitative"},"y":{"datum":-2.49,"type":"quantitative","axis":null},"text":{"field":"t"}}},
  {"data":{"values":[{"t":"<-Low-SLS"}]},"mark":{"type":"text","align":"left","baseline":"middle","fontSize":8,"color":"#222"},"encoding":{"x":{"datum":-0.41,"type":"quantitative"},"y":{"datum":27.58,"type":"quantitative","axis":null},"text":{"field":"t"}}},
  {"data":{"values":[{"t":"High-SLS->"}]},"mark":{"type":"text","align":"left","baseline":"middle","fontSize":8,"color":"#222"},"encoding":{"x":{"datum":1.31,"type":"quantitative"},"y":{"datum":27.58,"type":"quantitative","axis":null},"text":{"field":"t"}}}
 ]},
{"width":242,"height":266,"data":{"name":"forestF"},
 "layer":[
  {"data":{"values":[{}]},"mark":{"type":"rule","color":"#000","strokeWidth":1.2},"encoding":{"x":{"datum":-0.05,"type":"quantitative"},"x2":{"datum":4.12},"y":{"datum":-1.48,"type":"quantitative","axis":null}}},
  {"data":{"values":[{}]},"mark":{"type":"rule","color":"#000","strokeWidth":1},"encoding":{"x":{"datum":1,"type":"quantitative"},"y":{"datum":-1.48,"type":"quantitative","axis":null},"y2":{"datum":22.48}}},
  {"transform":[{"filter":"datum.i == 0"}],"mark":{"type":"rule","color":"#000","strokeWidth":1.1,"strokeDash":[4,3]},"encoding":{"x":{"field":"hr","type":"quantitative","title":null},"y":{"datum":-0.95,"type":"quantitative","axis":null},"y2":{"datum":22.4}}},
  {"transform":[{"filter":"isValid(datum.hr)"}],"mark":{"type":"rule","color":"#111","strokeWidth":1},"encoding":{"x":{"field":"lo","type":"quantitative","title":null},"x2":{"field":"hi"},"y":{"field":"i","type":"quantitative","axis":null}}},
  {"transform":[{"filter":"isValid(datum.hr)"}],"mark":{"type":"tick","orient":"vertical","size":4,"thickness":1,"color":"#111"},"encoding":{"x":{"field":"lo","type":"quantitative","title":null},"y":{"field":"i","type":"quantitative","axis":null}}},
  {"transform":[{"filter":"isValid(datum.hr)"}],"mark":{"type":"tick","orient":"vertical","size":4,"thickness":1,"color":"#111"},"encoding":{"x":{"field":"hi","type":"quantitative","title":null},"y":{"field":"i","type":"quantitative","axis":null}}},
  {"transform":[{"filter":"isValid(datum.hr)"}],"mark":{"type":"point","shape":"diamond","filled":true,"color":"#5B9BD5","size":70,"opacity":1},
   "encoding":{"x":{"field":"hr","type":"quantitative","scale":{"domain":[-0.05,4.12],"nice":false,"zero":false},"axis":{"values":[0.5,1,2,3],"format":"~g","title":null,"tickSize":0,"labelPadding":4,"domainWidth":1.2,"labelFontSize":8}},
    "y":{"field":"i","type":"quantitative","scale":{"domain":[-5.73,22.48],"reverse":true,"nice":false,"zero":false},"axis":null}}},
  {"mark":{"type":"text","align":"left","baseline":"middle","fontSize":8.3,"color":"#222"},"encoding":{"x":{"datum":-0.05,"type":"quantitative"},"y":{"field":"i","type":"quantitative","axis":null},"text":{"field":"label"}}},
  {"transform":[{"filter":"isValid(datum.hr)"}],"mark":{"type":"text","align":"left","baseline":"middle","fontSize":7.6,"color":"#222"},"encoding":{"x":{"datum":3.31,"type":"quantitative"},"y":{"field":"i","type":"quantitative","axis":null},"text":{"field":"ci"}}},
  {"data":{"values":[{"t":"Subgroup"}]},"mark":{"type":"text","align":"left","baseline":"middle","fontSize":9.5,"color":"#222"},"encoding":{"x":{"datum":-0.05,"type":"quantitative"},"y":{"datum":-2.65,"type":"quantitative","axis":null},"text":{"field":"t"}}},
  {"data":{"values":[{"t":"Hazard ratio"}]},"mark":{"type":"text","align":"center","baseline":"middle","fontSize":8.8,"color":"#222"},"encoding":{"x":{"datum":3.88,"type":"quantitative"},"y":{"datum":-3.65,"type":"quantitative","axis":null},"text":{"field":"t"}}},
  {"data":{"values":[{"t":"(95% CI)"}]},"mark":{"type":"text","align":"center","baseline":"middle","fontSize":8.8,"color":"#222"},"encoding":{"x":{"datum":3.88,"type":"quantitative"},"y":{"datum":-2.6,"type":"quantitative","axis":null},"text":{"field":"t"}}},
  {"data":{"values":[{"t":"F"}]},"mark":{"type":"text","align":"center","baseline":"middle","fontSize":12,"fontWeight":"bold"},"encoding":{"x":{"datum":-0.345,"type":"quantitative"},"y":{"datum":-4.67,"type":"quantitative","axis":null},"text":{"field":"t"}}},
  {"data":{"values":[{"t":"<-Low-SLS"}]},"mark":{"type":"text","align":"left","baseline":"middle","fontSize":8,"color":"#222"},"encoding":{"x":{"datum":-0.155,"type":"quantitative"},"y":{"datum":25.13,"type":"quantitative","axis":null},"text":{"field":"t"}}},
  {"data":{"values":[{"t":"High-SLS->"}]},"mark":{"type":"text","align":"left","baseline":"middle","fontSize":8,"color":"#222"},"encoding":{"x":{"datum":0.98,"type":"quantitative"},"y":{"datum":25.13,"type":"quantitative","axis":null},"text":{"field":"t"}}}
 ]}
]}
]}
]
}
